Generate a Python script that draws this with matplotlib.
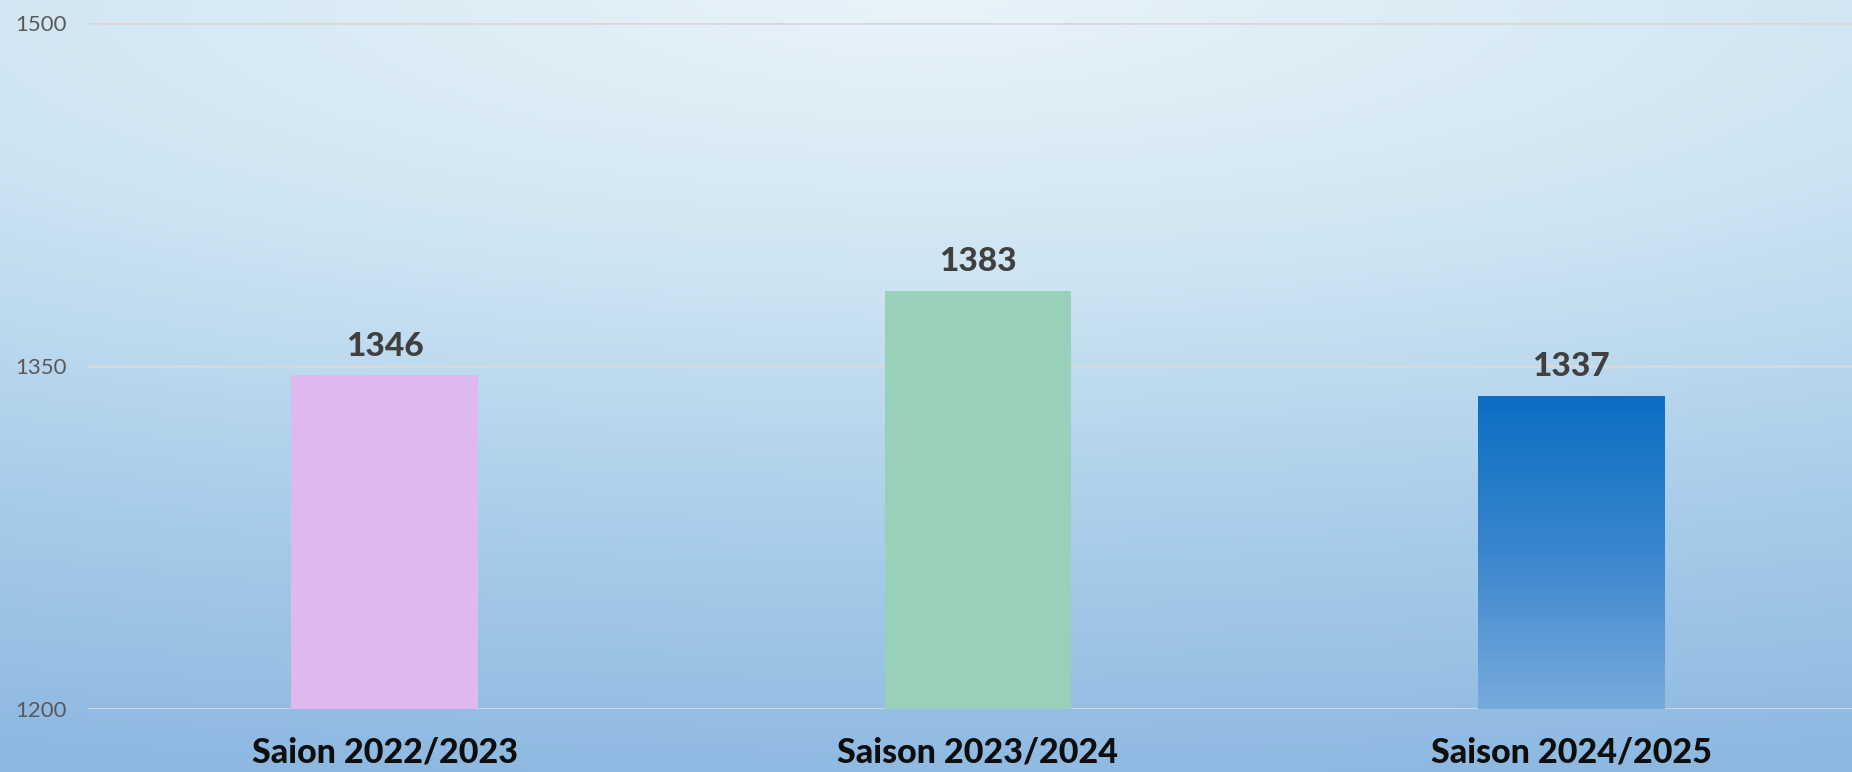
import numpy as np
import matplotlib
matplotlib.use("Agg")
import matplotlib.pyplot as plt
from matplotlib.colors import LinearSegmentedColormap

categories = ["Saion 2022/2023", "Saison 2023/2024", "Saison 2024/2025"]
values = [1346, 1383, 1337]
y_ticks = [1200, 1350, 1500]

PINK, GREEN = "#DFB8EF", "#99D0B9"
BLUE_TOP, BLUE_BOTTOM = "#0A6EC4", "#77ABDD"
GRID = "#D9D9D9"

plt.rcParams["font.family"] = ["Lato", "DejaVu Sans"]

fig = plt.figure(figsize=(18.52, 7.72), dpi=100)

# background: light at top centre, darker blue towards the bottom corners
bg = fig.add_axes([0, 0, 1, 1], zorder=-10)
bg.axis("off")
gx, gy = np.meshgrid(np.linspace(-0.5, 0.5, 400), np.linspace(0, 1, 200))
t = np.clip(np.sqrt((0.54 * gx) ** 2 + (0.87 * gy) ** 2) / 0.91, 0, 1)
bg_cmap = LinearSegmentedColormap.from_list("bg", ["#E8F3F9", "#CFE5F2", "#A9CDEA", "#8BB7E0"])
bg.imshow(t, cmap=bg_cmap, aspect="auto", extent=[0, 1, 0, 1], origin="upper", vmin=0, vmax=1)
bg.set_xlim(0, 1); bg.set_ylim(0, 1)

ax = fig.add_axes([88 / 1852, 63 / 772, 1780 / 1852, 686 / 772])
ax.patch.set_alpha(0)
x = np.arange(len(categories))
bars = ax.bar(x, values, width=0.315, color=[PINK, GREEN, BLUE_TOP], zorder=3)

# gradient fill on the last bar
b = bars[2]
grad = np.linspace(0, 1, 256).reshape(-1, 1)
gcmap = LinearSegmentedColormap.from_list("bar", [BLUE_TOP, "#3A86CD", BLUE_BOTTOM])
im = ax.imshow(grad, cmap=gcmap, aspect="auto", origin="upper", zorder=4,
               extent=[b.get_x(), b.get_x() + b.get_width(), 1200, b.get_height()])
im.set_clip_path(b)

ax.set_ylim(1200, 1500)
ax.set_xlim(-0.5, 2.5)
ax.set_yticks(y_ticks)
ax.yaxis.grid(True, color=GRID, linewidth=2, zorder=0)
ax.set_axisbelow(True)
for s in ax.spines.values():
    s.set_visible(False)
ax.tick_params(axis="y", length=0, pad=15, labelsize=16, labelcolor="#595959")
ax.set_xticks(x)
ax.set_xticklabels(categories, fontsize=24.5, fontweight="black", color="#0D0D0D")
ax.tick_params(axis="x", length=0, pad=20)

for xi, v in zip(x, values):
    ax.annotate(str(v), (xi, v), xytext=(0, 14), textcoords="offset points",
                ha="center", va="baseline", fontsize=24, fontweight="black", color="#404040")

fig.savefig("out.png", dpi=100)
